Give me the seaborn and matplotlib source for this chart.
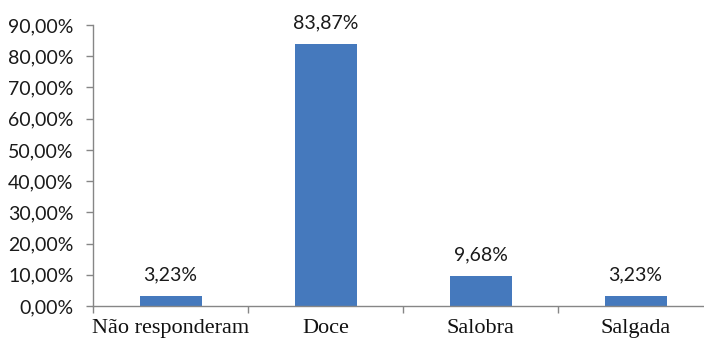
import matplotlib
matplotlib.use("Agg")
import matplotlib.pyplot as plt
import seaborn as sns
import pandas as pd
import numpy as np

categorias = ["Não responderam", "Doce", "Salobra", "Salgada"]
percentuais = [3.23, 83.87, 9.68, 3.23]
rotulos_valor = ["3,23%", "83,87%", "9,68%", "3,23%"]
ticks_y = [0, 10, 20, 30, 40, 50, 60, 70, 80, 90]
rotulos_y = ["0,00%", "10,00%", "20,00%", "30,00%", "40,00%", "50,00%",
             "60,00%", "70,00%", "80,00%", "90,00%"]

sns.set_style("white")
plt.rcParams["font.family"] = ["Lato", "DejaVu Sans"]

df = pd.DataFrame({"categoria": categorias, "percentual": percentuais})

fig = plt.figure(figsize=(7.04, 3.40), dpi=100)
ax = fig.add_axes([93 / 704, 34 / 340, 620 / 704, 281 / 340])

cor = "#4579bd"
sns.barplot(data=df, x="categoria", y="percentual", color=cor, width=0.4,
            saturation=1, ax=ax, edgecolor="none")

ax.set_xlim(-0.5, 3.5)
ax.set_ylim(0, 90)
ax.set_xlabel("")
ax.set_ylabel("")

ax.set_yticks(ticks_y)
ax.set_yticklabels(rotulos_y, fontsize=14, color="#1a1a1a")

# category separators as major ticks, names as minor ticks
ax.set_xticks(np.arange(-0.5, 4.0, 1.0))
ax.set_xticklabels([])
ax.set_xticks(np.arange(len(categorias)), minor=True)
ax.set_xticklabels(categorias, minor=True, fontsize=16,
                   family=["Liberation Serif"], color="#111111")
ax.tick_params(axis="x", which="major", direction="out", length=5,
               width=1, color="#868686", bottom=True)
ax.tick_params(axis="x", which="minor", length=0, pad=9.5)
ax.tick_params(axis="y", direction="out", length=5, width=1,
               color="#868686", left=True, pad=9)

for s in ["top", "right"]:
    ax.spines[s].set_visible(False)
for s in ["left", "bottom"]:
    ax.spines[s].set_color("#868686")
    ax.spines[s].set_linewidth(1)

for i, (v, r) in enumerate(zip(percentuais, rotulos_valor)):
    ax.annotate(r, (i, v), xytext=(0, 11), textcoords="offset points",
                ha="center", va="baseline", fontsize=14, color="#1a1a1a")

fig.savefig("out.png", dpi=100, facecolor="white")
